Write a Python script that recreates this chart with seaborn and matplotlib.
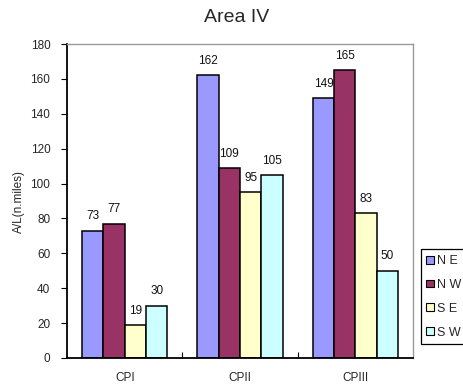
import matplotlib
matplotlib.use("Agg")
import matplotlib.pyplot as plt
import seaborn as sns
import pandas as pd
from matplotlib.patches import Patch

periods = ["CPI", "CPII", "CPIII"]
directions = ["NE", "NW", "SE", "SW"]
ne = [73, 162, 149]
nw = [77, 109, 165]
se = [19, 95, 83]
sw = [30, 105, 50]
colors = ["#9999FF", "#993366", "#FFFFCC", "#CCFFFF"]

rows = []
for d, vals in zip(directions, [ne, nw, se, sw]):
    for p, v in zip(periods, vals):
        rows.append({"period": p, "dir": d, "value": v})
df = pd.DataFrame(rows)

sns.set_theme(style="white")
plt.rcParams["font.family"] = ["Liberation Sans", "DejaVu Sans"]

fig = plt.figure(figsize=(4.64, 3.89), dpi=100)
ax = fig.add_axes([0.1444, 0.0797, 0.746, 0.807])

sns.barplot(data=df, x="period", y="value", hue="dir", order=periods,
            hue_order=directions, palette=colors, width=0.74,
            edgecolor="black", linewidth=1.1, saturation=1, ax=ax, legend=False)

for container in ax.containers:
    ax.bar_label(container, fmt="%d", padding=6, fontsize=8.5, color="#111111")

ax.set_xlim(-0.5, 2.5)
ax.set_ylim(0, 180)
ax.set_yticks(range(0, 181, 20))
ax.set_xlabel("")
ax.set_ylabel("A/L(n.miles)", fontsize=8.5, labelpad=4)
ax.set_title("Area IV", fontsize=14, pad=16, x=0.49)

ax.tick_params(axis="y", which="major", direction="out", length=4, width=0.8,
               labelsize=8.5, left=True, color="black", pad=8)
ax.tick_params(axis="x", which="major", length=0, labelsize=8.5, pad=10)
ax.set_xticks([0.5, 1.5], minor=True)
ax.tick_params(axis="x", which="minor", direction="in", length=4, width=0.8,
               bottom=True, color="black")

for side in ["left", "bottom"]:
    ax.spines[side].set_color("black")
    ax.spines[side].set_linewidth(1.3)
for side in ["top", "right"]:
    ax.spines[side].set_visible(True)
    ax.spines[side].set_color("#999999")
    ax.spines[side].set_linewidth(1.0)

handles = [Patch(facecolor=c, edgecolor="black", linewidth=0.8) for c in colors]
leg = fig.legend(handles, ["N E", "N W", "S E", "S W"], loc="lower left",
                 bbox_to_anchor=(0.907, 0.115), fontsize=9,
                 handlelength=0.6, handleheight=0.6, handletextpad=0.25,
                 labelspacing=0.95, borderpad=0.45, borderaxespad=0.0,
                 fancybox=False, frameon=True, edgecolor="black", framealpha=1)
leg.get_frame().set_linewidth(0.9)

fig.savefig("out.png", dpi=100)
